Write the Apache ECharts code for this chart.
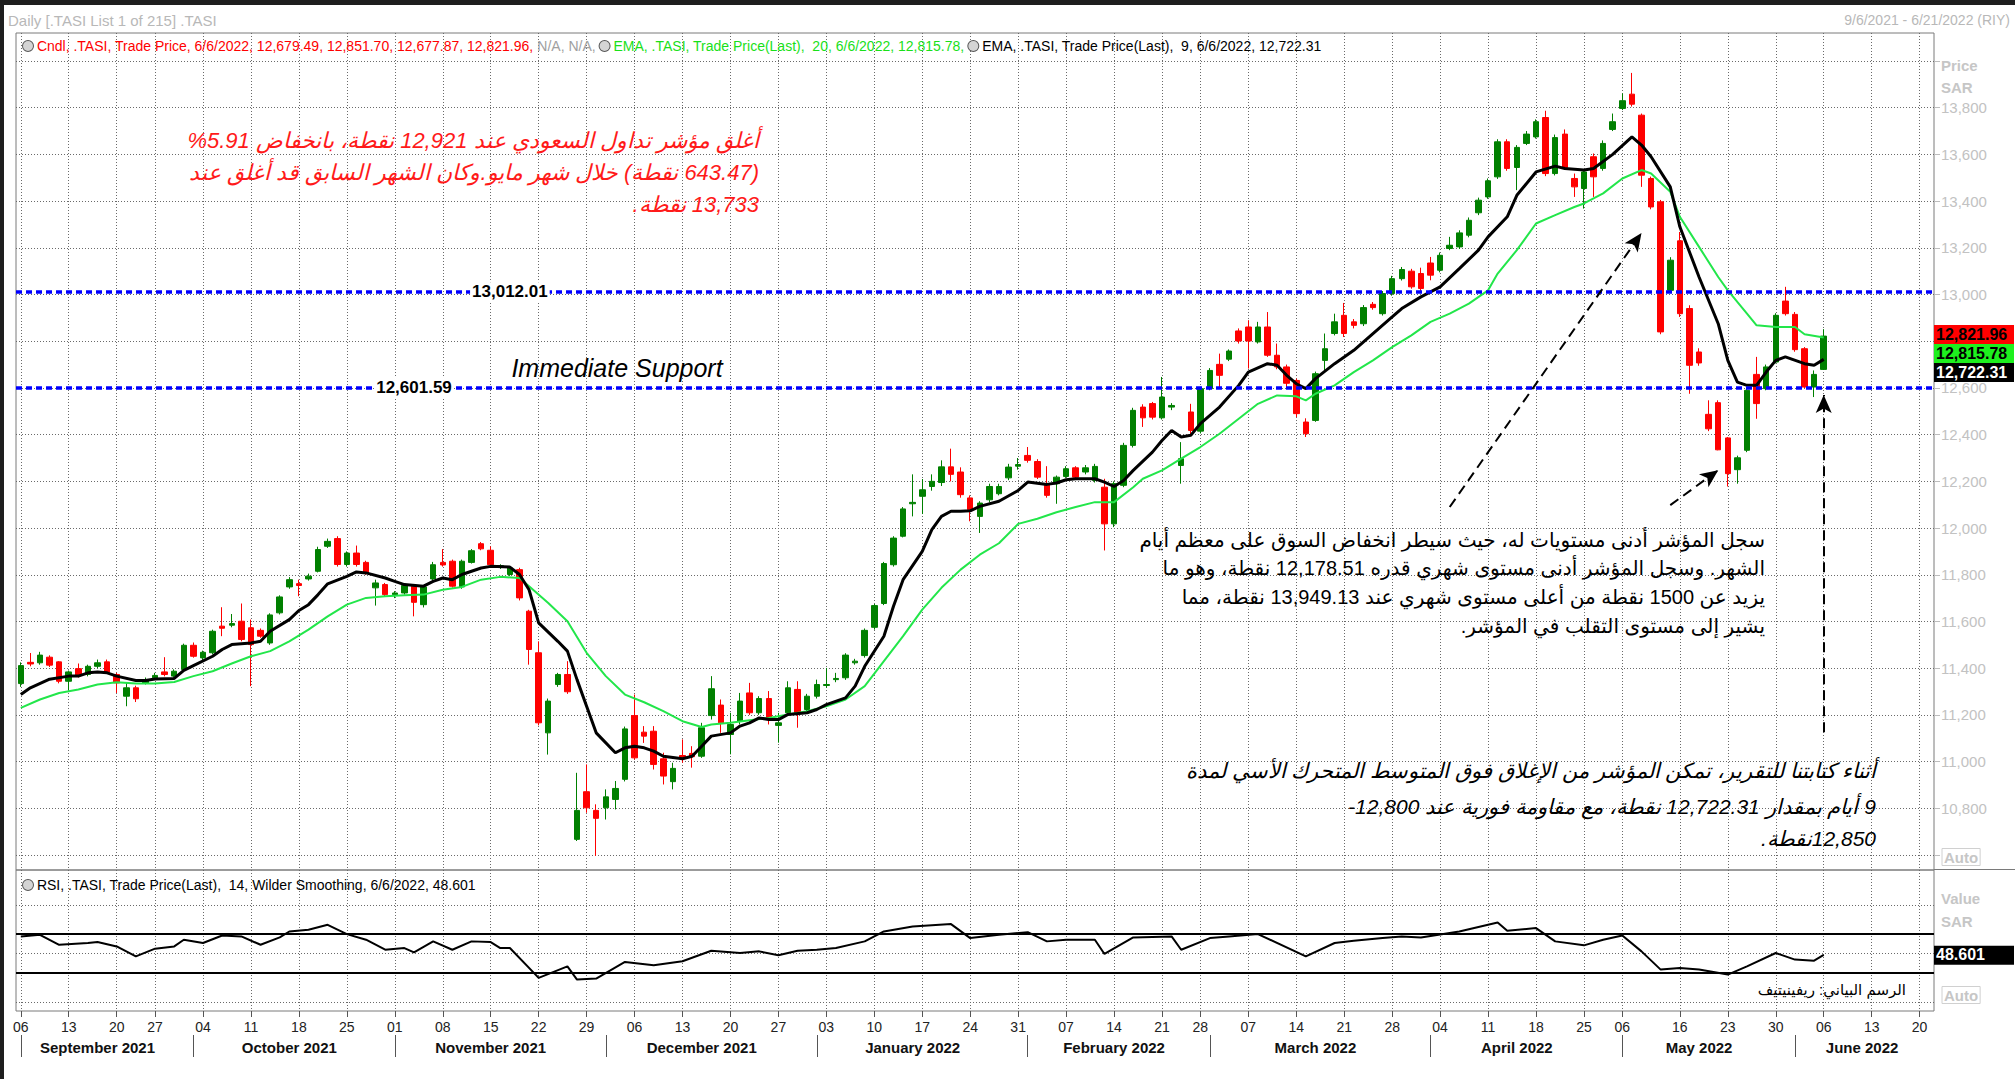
<!DOCTYPE html>
<html>
<head>
<meta charset="utf-8">
<script src="https://cdn.jsdelivr.net/npm/echarts@6/dist/echarts.min.js"></script>
<style>
html,body{margin:0;padding:0;background:#fff}
#chart{width:2015px;height:1079px}
</style>
</head>
<body>
<div id="chart"></div>
<script>
// trading days (Sun-Thu) per month, Tadawul holidays removed, June runs on to 21st (empty)
const tradingDays = [
  ['2021-09', [6,7,8,9,12,13,14,15,16,19,20,21,22,26,27,28,29,30]],
  ['2021-10', [3,4,5,6,7,10,11,12,13,14,17,18,19,20,21,24,25,26,27,28,31]],
  ['2021-11', [1,2,3,4,7,8,9,10,11,14,15,16,17,18,21,22,23,24,25,28,29,30]],
  ['2021-12', [1,2,5,6,7,8,9,12,13,14,15,16,19,20,21,22,23,26,27,28,29,30]],
  ['2022-01', [2,3,4,5,6,9,10,11,12,13,16,17,18,19,20,23,24,25,26,27,30,31]],
  ['2022-02', [1,2,3,6,7,8,9,10,13,14,15,16,17,20,21,23,24,27,28]],
  ['2022-03', [1,2,3,6,7,8,9,10,13,14,15,16,17,20,21,22,23,24,27,28,29,30,31]],
  ['2022-04', [3,4,5,6,7,10,11,12,13,14,17,18,19,20,21,24,25,26,27,28]],
  ['2022-05', [8,9,10,11,12,15,16,17,18,19,22,23,24,25,26,29,30,31]],
  ['2022-06', [1,2,5,6,7,8,9,12,13,14,15,16,19,20,21]]
];
const monthNames = ['September 2021','October 2021','November 2021','December 2021','January 2022',
  'February 2022','March 2022','April 2022','May 2022','June 2022'];

const weekTicks = ['2021-09-06','2021-09-13','2021-09-20','2021-09-27','2021-10-04','2021-10-11','2021-10-18','2021-10-25',
  '2021-11-01','2021-11-08','2021-11-15','2021-11-22','2021-11-29','2021-12-06','2021-12-13','2021-12-20','2021-12-27',
  '2022-01-03','2022-01-10','2022-01-17','2022-01-24','2022-01-31','2022-02-07','2022-02-14','2022-02-21','2022-02-28',
  '2022-03-07','2022-03-14','2022-03-21','2022-03-28','2022-04-04','2022-04-11','2022-04-18','2022-04-25',
  '2022-05-08','2022-05-16','2022-05-23','2022-05-30','2022-06-06','2022-06-13','2022-06-20'];
const weekTickText = ['06','13','20','27','04','11','18','25','01','08','15','22','29','06','13','20','27',
  '03','10','17','24','31','07','14','21','28','07','14','21','28','04','11','18','25','06','16','23','30','06','13','20'];

// [open, close, low, high]
const candles = [
[11334,11411,11320,11425],[11425,11418,11408,11465],[11423,11456,11415,11470],[11447,11413,11405,11455],
[11427,11344,11335,11430],[11344,11384,11306,11390],[11398,11369,11360,11420],[11373,11408,11365,11415],
[11408,11423,11400,11437],[11427,11383,11375,11437],[11373,11337,11294,11380],[11280,11316,11237,11337],
[11316,11269,11255,11325],[11337,11351,11330,11360],[11359,11369,11350,11380],[11384,11373,11365,11447],
[11366,11387,11360,11395],[11394,11498,11390,11505],[11498,11451,11445,11510],[11444,11468,11435,11475],
[11466,11558,11460,11565],[11580,11571,11537,11661],[11584,11591,11575,11632],[11601,11523,11515,11677],
[11573,11501,11323,11608],[11562,11537,11530,11570],[11508,11628,11500,11635],[11637,11705,11630,11712],
[11748,11779,11740,11790],[11762,11754,11708,11779],[11782,11794,11775,11805],[11815,11908,11810,11920],
[11922,11943,11915,11955],[11955,11844,11835,11965],[11844,11893,11835,11900],[11893,11844,11835,11925],
[11853,11808,11800,11860],[11744,11765,11668,11779],[11758,11715,11705,11765],[11715,11722,11700,11730],
[11722,11754,11715,11762],[11751,11682,11622,11760],[11672,11748,11660,11755],[11782,11843,11775,11855],
[11853,11842,11835,11910],[11858,11751,11745,11865],[11748,11858,11740,11865],[11853,11903,11848,11910],
[11933,11911,11905,11940],[11905,11843,11835,11922],[11833,11839,11825,11845],[11801,11829,11795,11835],
[11822,11701,11690,11830],[11644,11480,11415,11650],[11466,11166,11155,11515],[11123,11259,11030,11270],
[11330,11373,11320,11380],[11373,11299,11290,11430],[10667,10791,10660,10952],[10871,10802,10781,10988],
[10791,10757,10596,10817],[10802,10849,10752,10881],[10838,10885,10795,10917],[10924,11140,10915,11150],
[11197,11016,11009,11287],[11126,11109,11080,11152],[11130,10988,10966,11152],[11012,10938,10902,11038],
[10914,10971,10881,10995],[11026,11016,10995,11095],[11035,11021,10974,11066],[11023,11145,11016,11166],
[11197,11312,11180,11366],[11242,11166,11123,11266],[11116,11159,11031,11209],[11173,11259,11159,11294],
[11294,11209,11200,11337],[11209,11270,11200,11280],[11270,11180,11159,11302],[11155,11166,11081,11209],
[11209,11316,11200,11344],[11309,11209,11145,11344],[11223,11280,11215,11290],[11280,11330,11270,11351],
[11326,11330,11316,11401],[11351,11356,11340,11380],[11359,11456,11350,11464],[11423,11430,11415,11440],
[11454,11562,11445,11570],[11575,11668,11565,11675],[11677,11848,11670,11855],[11843,11957,11835,11965],
[11965,12082,11960,12090],[12104,12110,12050,12230],[12136,12164,12060,12210],[12178,12200,12160,12230],
[12195,12262,12180,12290],[12262,12230,12200,12340],[12240,12143,12130,12260],[12129,12079,12029,12140],
[12050,12107,11979,12115],[12121,12178,12110,12190],[12147,12178,12140,12190],[12215,12261,12205,12275],
[12265,12272,12250,12300],[12311,12290,12280,12347],[12285,12218,12210,12295],[12187,12140,12130,12265],
[12190,12218,12104,12225],[12221,12254,12215,12265],[12258,12218,12210,12265],[12240,12258,12230,12270],
[12204,12264,12195,12275],[12175,12018,11904,12211],[12018,12190,12004,12200],[12183,12354,12175,12365],
[12354,12504,12345,12515],[12518,12472,12433,12530],[12533,12475,12465,12540],[12472,12561,12465,12647],
[12518,12525,12505,12535],[12268,12297,12190,12368],[12497,12418,12397,12532],[12415,12597,12405,12605],
[12597,12675,12590,12685],[12701,12654,12604,12747],[12723,12758,12715,12765],[12844,12801,12790,12855],
[12861,12801,12683,12890],[12797,12861,12790,12883],[12861,12740,12733,12925],[12740,12690,12680,12790],
[12690,12620,12600,12700],[12632,12490,12475,12640],[12454,12404,12390,12470],[12461,12661,12455,12670],
[12718,12768,12675,12833],[12833,12883,12825,12918],[12911,12833,12818,12964],[12883,12868,12855,12895],
[12875,12944,12865,12955],[12958,12944,12935,12968],[12918,13004,12910,13015],[13004,13068,12995,13080],
[13068,13107,13060,13118],[13100,13033,13025,13110],[13090,13026,13015,13115],[13135,13083,13061,13161],
[13104,13168,13095,13180],[13197,13211,13190,13247],[13204,13264,13195,13275],[13254,13318,13245,13330],
[13350,13404,13340,13415],[13418,13487,13410,13497],[13504,13654,13495,13665],[13654,13540,13530,13665],
[13544,13630,13447,13640],[13647,13687,13640,13700],[13675,13740,13668,13750],[13758,13518,13507,13787],
[13518,13672,13510,13685],[13687,13544,13535,13707],[13497,13461,13418,13518],[13454,13525,13368,13535],
[13590,13504,13418,13604],[13540,13647,13530,13660],[13707,13740,13700,13775],[13797,13830,13790,13861],
[13858,13815,13805,13949],[13768,13511,13461,13775],[13497,13375,13365,13505],[13397,12840,12830,13405],
[13018,13147,13010,13160],[13230,12918,12904,13268],[12940,12697,12575,12954],[12754,12707,12695,12770],
[12487,12425,12415,12547],[12537,12335,12333,12547],[12386,12233,12178,12390],[12250,12301,12190,12310],
[12333,12590,12325,12600],[12658,12533,12468,12733],[12597,12690,12590,12700],[12711,12911,12705,12920],
[12972,12918,12910,13033],[12915,12764,12755,12925],[12768,12604,12600,12775],[12604,12658,12561,12675],
[12679.49,12821.96,12677.87,12851.70]
];

// [day index, value]
const ema9 = [[0,11287],[1,11316],[3,11353],[5,11366],[6,11366],[7,11380],[8,11384],[9,11380],[10,11366],[12,11347],
[13,11347],[14,11354],[16,11356],[17,11391],[18,11411],[20,11451],[21,11480],[22,11501],[24,11508],[25,11515],[26,11558],
[28,11608],[29,11647],[30,11672],[31,11715],[32,11761],[34,11793],[35,11812],[36,11808],[38,11786],[39,11772],[40,11758],
[42,11751],[43,11772],[44,11786],[45,11779],[46,11801],[48,11829],[49,11836],[51,11833],[52,11801],[53,11736],[54,11594],
[56,11515],[57,11473],[58,11351],[59,11237],[60,11123],[62,11038],[63,11059],[64,11066],[65,11059],[66,11045],[67,11023],
[69,11012],[70,11023],[71,11066],[72,11109],[74,11123],[75,11152],[76,11166],[77,11187],[78,11180],[79,11180],[80,11202],
[82,11209],[83,11223],[84,11244],[86,11273],[87,11323],[88,11408],[90,11537],[91,11665],[92,11779],[94,11900],[95,11993],
[96,12050],[97,12072],[98,12072],[99,12074],[100,12093],[102,12115],[104,12161],[105,12197],[107,12187],[108,12193],
[109,12207],[110,12211],[112,12211],[113,12197],[114,12178],[115,12204],[116,12247],[118,12325],[119,12375],[120,12418],
[121,12390],[122,12397],[123,12447],[125,12518],[127,12611],[128,12668],[130,12704],[131,12697],[132,12654],[133,12618],
[134,12597],[135,12640],[137,12704],[139,12761],[141,12833],[143,12904],[144,12940],[146,12990],[148,13033],[150,13111],
[152,13190],[153,13247],[155,13333],[156,13425],[158,13525],[160,13550],[161,13540],[163,13533],[164,13540],[166,13600],
[168,13675],[169,13640],[170,13590],[172,13461],[173,13290],[175,13075],[177,12875],[178,12718],[179,12625],[180,12611],
[181,12611],[182,12668],[183,12718],[184,12733],[186,12704],[187,12697],[188,12722.31]];

const ema20 = [[0,11230],[2,11266],[4,11294],[6,11309],[8,11330],[10,11340],[12,11334],[14,11334],[16,11341],[18,11366],
[20,11387],[22,11420],[24,11451],[26,11473],[28,11515],[30,11565],[32,11622],[34,11672],[36,11701],[38,11708],[40,11712],
[42,11715],[44,11736],[46,11748],[48,11779],[50,11791],[52,11786],[53,11751],[55,11679],[57,11601],[59,11466],[61,11366],
[63,11287],[65,11254],[67,11216],[69,11173],[71,11148],[72,11159],[74,11166],[76,11177],[78,11187],[80,11202],[82,11216],
[84,11237],[86,11266],[88,11323],[90,11430],[92,11537],[94,11651],[96,11744],[98,11822],[100,11886],[102,11935],[104,12018],
[106,12040],[108,12068],[110,12090],[112,12111],[114,12111],[116,12175],[117,12211],[119,12247],[121,12297],[123,12347],
[125,12404],[127,12468],[129,12532],[131,12568],[133,12564],[134,12547],[135,12575],[137,12611],[139,12668],[141,12718],
[143,12775],[145,12825],[147,12883],[149,12918],[151,12961],[153,13018],[154,13090],[156,13190],[158,13304],[160,13340],
[162,13375],[163,13390],[165,13433],[167,13497],[169,13533],[170,13518],[172,13440],[173,13333],[175,13204],[177,13075],
[178,13018],[180,12918],[181,12868],[183,12861],[185,12861],[186,12830],[188,12815.78]];

const rsi = [[0,67.6],[2,69.3],[4,59],[7,60.8],[8,61.8],[10,57.3],[12,47.1],[14,55],[16,57.3],[17,64.2],[19,60.8],[21,68.6],
[23,67.6],[25,59],[27,66.6],[28,72.7],[30,74.4],[32,79.6],[34,70],[36,64.2],[38,53.9],[40,55.6],[41,51.2],[43,62.5],[45,53.9],
[47,62.5],[49,61.8],[50,55.6],[51,55.6],[54,24.9],[57,36.8],[58,23.1],[60,24.2],[63,41.3],[66,37.9],[69,42],[72,52.9],
[75,50.5],[77,52.2],[79,48.1],[81,52.9],[83,53.9],[85,55.6],[88,62.5],[90,72.7],[93,77.9],[97,80.3],[99,65.9],[102,69.3],
[105,72],[107,62.5],[109,64.2],[112,64.2],[113,49.5],[116,66.6],[120,67.6],[121,53.9],[124,65.9],[126,67.6],[129,70],
[134,47.1],[137,60.8],[139,63.2],[142,65.9],[144,67.6],[146,66.6],[150,72.7],[154,82],[155,73.4],[158,76.2],[160,62.5],
[163,58.4],[165,64.2],[167,68.6],[169,52.2],[171,33.4],[173,35.1],[175,33.4],[178,28.3],[180,36.8],[183,50.5],[185,43.7],
[187,42.6],[188,48.601]];

const resistance = 13012.01;
const support = 12601.59;
const lastValues = {close: 12821.96, ema20: 12815.78, ema9: 12722.31, rsi: 48.601};

// dashed arrows drawn on the chart, in [day index, price]
const arrows = [
  [[149, 12090], [169, 13263]],
  [[172, 12098], [177, 12248]],
  [[188, 11126], [188, 12570]]
];

// ---------- build categories ----------
const categories = [];
const monthStart = new Set();
const monthMid = {};
tradingDays.forEach(([ym, days], k) => {
  const s = categories.length;
  monthStart.add(s);
  days.forEach(d => categories.push(ym + '-' + String(d).padStart(2, '0')));
  monthMid[Math.floor((s + categories.length - 1) / 2)] = monthNames[k];
});
const weekSet = new Set(weekTicks);
const weekFn = (i, v) => weekSet.has(v);

const FONT = "'Liberation Sans', Arial, sans-serif";
const AR = "'Liberation Sans', 'DejaVu Sans', sans-serif";
const dotStyle = {color: '#6a6a6a', width: 1, type: [1, 2]};
const dotted = {show: true, alignWithLabel: true, interval: weekFn, lineStyle: dotStyle};

const catAxis = (gridIndex, extra) => Object.assign({
  type: 'category', gridIndex, data: categories, boundaryGap: true,
  axisLine: {show: false}, axisTick: {show: false}, axisLabel: {show: false}, splitLine: {show: false}
}, extra);

const gridBase = {left: 16, width: 1918, containLabel: false, outerBoundsMode: 'none'};

const chart = echarts.init(document.getElementById('chart'), null, {renderer: 'svg', width: 2015, height: 1079});

// price labels hidden where the last-value tags sit (as in the source chart)
const hiddenPrice = [14000, 12800, 10600];

const option = {
  animation: false,
  backgroundColor: '#fff',
  grid: [
    Object.assign({top: 33, height: 837, show: true, borderColor: '#7a7a7a', borderWidth: 1, backgroundColor: 'transparent'}, gridBase),
    Object.assign({top: 61, height: 794}, gridBase),
    Object.assign({top: 905, height: 97}, gridBase),
    Object.assign({top: 870, height: 141, show: true, borderColor: '#7a7a7a', borderWidth: 1, backgroundColor: 'transparent'}, gridBase)
  ],
  xAxis: [
    catAxis(0, {splitLine: dotted}),
    catAxis(1),
    catAxis(2),
    catAxis(3, {
      position: 'bottom',
      axisTick: {show: true, alignWithLabel: true, interval: weekFn, length: 6, lineStyle: {color: '#555'}},
      axisLabel: {show: true, interval: weekFn, margin: 9, color: '#222', fontSize: 14, fontFamily: FONT,
        formatter: v => weekTickText[weekTicks.indexOf(v)]},
      splitLine: dotted
    }),
    catAxis(3, {
      position: 'bottom', offset: 24,
      axisTick: {show: true, alignWithLabel: true, interval: i => monthStart.has(i), length: 22, lineStyle: {color: '#555'}},
      axisLabel: {show: true, interval: i => (i in monthMid), margin: 5, color: '#111', fontSize: 15,
        fontWeight: 'bold', fontFamily: FONT, formatter: (v, i) => monthMid[i] || ''}
    })
  ],
  yAxis: [
    {type: 'value', gridIndex: 0, show: false, min: 0, max: 1},
    {type: 'value', gridIndex: 1, position: 'right', min: 10600, max: 14000, interval: 200,
      axisLine: {show: false},
      axisTick: {show: true, length: 6, lineStyle: {color: '#bdbdbd'}},
      axisLabel: {margin: 7, color: '#c2c2c2', fontSize: 15, fontFamily: FONT,
        formatter: v => hiddenPrice.includes(v) ? '' : v.toLocaleString('en-US')},
      splitLine: {show: true, lineStyle: dotStyle}},
    {type: 'value', gridIndex: 2, min: 0, max: 100, interval: 50,
      axisLine: {show: false}, axisTick: {show: false}, axisLabel: {show: false},
      splitLine: {show: true, lineStyle: dotStyle}},
    {type: 'value', gridIndex: 3, show: false, min: 0, max: 1}
  ],
  series: [
    {
      type: 'candlestick', xAxisIndex: 1, yAxisIndex: 1, data: candles, barWidth: 6,
      itemStyle: {color: '#008000', color0: '#ff0000', borderColor: '#008000', borderColor0: '#ff0000', borderWidth: 1},
      markLine: {
        silent: true, symbol: 'none', animation: false, label: {show: false},
        lineStyle: {color: '#0000ff', width: 3.5, type: [6, 4]},
        data: [{yAxis: resistance}, {yAxis: support}]
      }
    },
    {
      type: 'line', name: 'EMA20', xAxisIndex: 1, yAxisIndex: 1, data: ema20,
      symbol: 'none', lineStyle: {color: '#22e64a', width: 2}
    },
    {
      type: 'line', name: 'EMA9', xAxisIndex: 1, yAxisIndex: 1, data: ema9,
      symbol: 'none', lineStyle: {color: '#000', width: 3},
      markLine: {
        silent: true, animation: false, label: {show: false}, symbolSize: [12, 18],
        lineStyle: {color: '#000', width: 2, type: [10, 6]},
        data: arrows.map(([a, b]) => [{coord: a, symbol: 'none'}, {coord: b, symbol: 'arrow'}])
      }
    },
    {
      type: 'line', name: 'RSI', xAxisIndex: 2, yAxisIndex: 2, data: rsi,
      symbol: 'none', lineStyle: {color: '#000', width: 2},
      markLine: {
        silent: true, symbol: 'none', animation: false, label: {show: false},
        lineStyle: {color: '#000', width: 2, type: 'solid'},
        data: [{yAxis: 70}, {yAxis: 30}]
      }
    }
  ]
};
chart.setOption(option);

// ---------- texts and labels ----------
const g = [];
const txt = (x, y, text, st) => g.push({type: 'text', x, y, silent: true, z: 50,
  style: Object.assign({text, fill: '#000', fontSize: 14, fontFamily: FONT, textAlign: 'left', textVerticalAlign: 'middle'}, st)});
const box = (x, y, w, h, fill) => g.push({type: 'rect', silent: true, z: 49, shape: {x, y, width: w, height: h}, style: {fill}});
const rtl = s => '\u202B' + s + '\u202C';

box(0, 0, 2015, 5, '#1e1e1e');
box(0, 0, 4, 1079, '#1e1e1e');
box(1934, 869, 81, 1, '#7a7a7a');

txt(8, 20, 'Daily [.TASI List 1 of 215] .TASI', {fill: '#b8b8b8', fontSize: 15});
txt(2010, 20, '9/6/2021 - 6/21/2022 (RIY)', {fill: '#b8b8b8', fontSize: 14, textAlign: 'right'});

const icon = {width: 10, height: 10, borderRadius: 5, backgroundColor: '#d4d4d4', borderColor: '#555', borderWidth: 1};
txt(23, 46, '{ic| }{r| Cndl, .TASI, Trade Price, 6/6/2022, 12,679.49, 12,851.70, 12,677.87, 12,821.96, }{n|N/A, N/A, }' +
  '{ic| }{gr| EMA, .TASI, Trade Price(Last),  20, 6/6/2022, 12,815.78, }{ic| }{k| EMA, .TASI, Trade Price(Last),  9, 6/6/2022, 12,722.31}',
  {rich: {ic: icon, r: {fill: '#ff0000', fontSize: 14, fontFamily: FONT}, n: {fill: '#a0a0a0', fontSize: 14, fontFamily: FONT},
    gr: {fill: '#19e019', fontSize: 14, fontFamily: FONT}, k: {fill: '#000', fontSize: 14, fontFamily: FONT}}});
txt(23, 885, '{ic| }{k| RSI, .TASI, Trade Price(Last),  14, Wilder Smoothing, 6/6/2022, 48.601}',
  {rich: {ic: icon, k: {fill: '#000', fontSize: 14, fontFamily: FONT}}});

// right column
const grey = {fill: '#c6c6c6', fontSize: 15, fontWeight: 'bold'};
txt(1941, 65, 'Price', grey);
txt(1941, 87, 'SAR', grey);
txt(1942, 857, 'Auto', Object.assign({borderColor: '#d0d0d0', borderWidth: 1, padding: [1, 2]}, grey));
txt(1941, 898, 'Value', grey);
txt(1941, 921, 'SAR', grey);
txt(1942, 995, 'Auto', Object.assign({borderColor: '#d0d0d0', borderWidth: 1, padding: [1, 2]}, grey));

const yC = chart.convertToPixel({yAxisIndex: 1}, lastValues.close);
const tags = [['#ff0000', '#000', lastValues.close], ['#1ef01e', '#000', lastValues.ema20], ['#000', '#fff', lastValues.ema9]];
tags.forEach(([bg, fg, v], k) => {
  box(1934, yC - 11 + k * 19, 80, 19, bg);
  txt(1936, yC - 1.5 + k * 19, v.toLocaleString('en-US', {minimumFractionDigits: 2}), {fill: fg, fontSize: 16, fontWeight: 'bold'});
});
const yR = chart.convertToPixel({yAxisIndex: 2}, lastValues.rsi);
box(1934, yR - 9, 80, 19, '#000');
txt(1936, yR, String(lastValues.rsi), {fill: '#fff', fontSize: 16, fontWeight: 'bold'});

// level labels on the blue lines
const pRes = chart.convertToPixel({gridIndex: 1}, [51, resistance]);
const pSup = chart.convertToPixel({gridIndex: 1}, [41, support]);
txt(pRes[0], pRes[1], '13,012.01', {fontSize: 17, fontWeight: 'bold', textAlign: 'center', backgroundColor: '#fff', padding: [1, 2]});
txt(pSup[0], pSup[1], '12,601.59', {fontSize: 17, fontWeight: 'bold', textAlign: 'center', backgroundColor: '#fff', padding: [1, 2]});
txt(617, 368, 'Immediate Support', {fontSize: 25, fontStyle: 'italic', textAlign: 'center'});

// commentary
const red = {fill: '#ff1a1a', fontSize: 22, fontStyle: 'italic', fontFamily: AR, textAlign: 'right'};
txt(759, 140, rtl('أغلق مؤشر تداول السعودي عند 12,921 نقطة، بانخفاض 5.91%'), red);
txt(759, 172, rtl('(643.47 نقطة) خلال شهر مايو.وكان الشهر السابق قد أغلق عند'), red);
txt(759, 204, rtl('13,733 نقطة.'), red);

const blk = {fill: '#000', fontSize: 20, fontFamily: AR, textAlign: 'right'};
txt(1765, 540, rtl('سجل المؤشر أدنى مستويات له، حيث سيطر انخفاض السوق على معظم أيام'), blk);
txt(1765, 568, rtl('الشهر. وسجل المؤشر أدنى مستوى شهري قدره 12,178.51 نقطة، وهو ما'), blk);
txt(1765, 597, rtl('يزيد عن 1500 نقطة من أعلى مستوى شهري عند 13,949.13 نقطة، مما'), blk);
txt(1765, 626, rtl('يشير إلى مستوى التقلب في المؤشر.'), blk);

const blkI = {fill: '#000', fontSize: 21, fontStyle: 'italic', fontFamily: AR, textAlign: 'right'};
txt(1876, 770, rtl('أثناء كتابتنا للتقرير، تمكن المؤشر من الإغلاق فوق المتوسط المتحرك الأسي لمدة'), blkI);
txt(1876, 806, rtl('9 أيام بمقدار 12,722.31 نقطة، مع مقاومة فورية عند 12,800-'), blkI);
txt(1876, 838, rtl('12,850نقطة.'), blkI);

txt(1906, 989, rtl('الرسم البياني: ريفينيتيف'), {fontSize: 15, fontFamily: AR, textAlign: 'right'});

chart.setOption({graphic: g});
</script>
</body>
</html>
